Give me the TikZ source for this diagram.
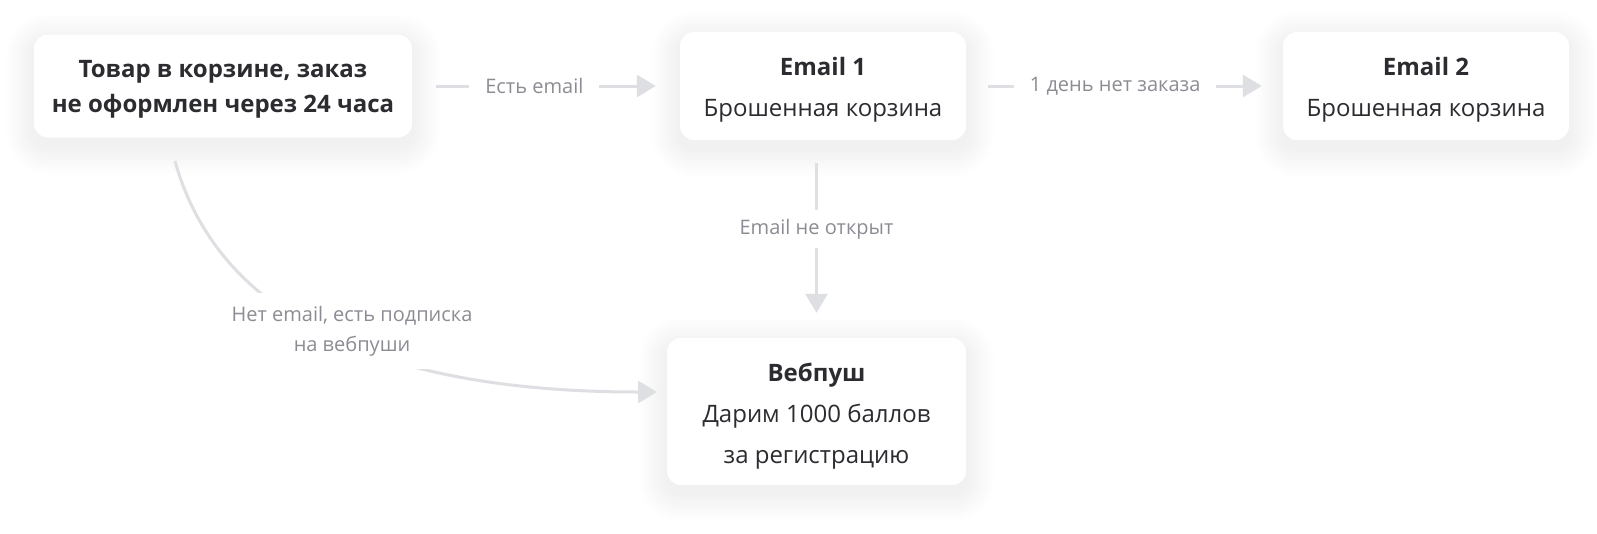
\documentclass[tikz,border=0pt]{standalone}
\usepackage{fontspec}
\setmainfont{Open Sans}
\usetikzlibrary{arrows.meta}
\definecolor{txt}{HTML}{2B2B30}
\definecolor{lblc}{HTML}{8C8C94}
\definecolor{arrc}{HTML}{DDDFE3}
\pgfdeclarelayer{bg}
\pgfsetlayers{bg,main}
\begin{document}
\begin{tikzpicture}[x=1pt,y=-1pt,
  card/.style={fill=white, rounded corners=14pt, align=center, text=txt,
    font=\fontsize{24}{41}\selectfont, inner sep=0pt},
  arr/.style={draw=arrc, line width=3pt, -{Triangle[length=19pt,width=22pt]}},
  lbl/.style={fill=white, text=lblc, font=\fontsize{20}{30}\selectfont,
    inner xsep=16pt, inner ysep=9pt, align=center}]
\useasboundingbox (0,0) rectangle (1597,533);

\node[card, minimum width=378pt, minimum height=103pt,
  font=\bfseries\fontsize{24}{35}\selectfont] (b1) at (223,86)
  {\rule{0pt}{24pt}Товар в корзине, заказ\\не оформлен через 24 часа};
\node[card, minimum width=286pt, minimum height=108pt] (b2) at (823,86)
  {\rule{0pt}{26pt}\textbf{Email 1}\\Брошенная корзина};
\node[card, minimum width=286pt, minimum height=108pt] (b3) at (1426,86)
  {\rule{0pt}{26pt}\textbf{Email 2}\\Брошенная корзина};
\node[card, minimum width=299pt, minimum height=147pt] (b4) at (816.5,411.5)
  {\rule{0pt}{28pt}\textbf{Вебпуш}\\Дарим 1000 баллов\\за регистрацию};

\begin{pgfonlayer}{bg}
\fill[white] (0,0) rectangle (1597,533);
\foreach \n in {b1,b2,b3,b4}{
  \foreach \i in {1,...,14}{
    \pgfmathsetmacro\d{2*\i}
    \pgfmathsetmacro\r{14+2*\i}
    \fill[black, fill opacity=0.005, rounded corners=\r pt]
      ([xshift=-\d pt, yshift=\d pt-8pt]\n.north west) rectangle
      ([xshift=\d pt, yshift=-\d pt-8pt]\n.south east);
  }
}
\end{pgfonlayer}

\draw[arr] ([xshift=24pt]b1.east) -- node[lbl, pos=0.447]{Есть email} ([xshift=-24pt]b2.west);
\draw[arr] ([xshift=22pt]b2.east) -- node[lbl, pos=0.464]{1 день нет заказа} ([xshift=-21pt]b3.west);

\coordinate (v0) at (816.5,163);
\draw[arr] (v0) -- node[lbl, pos=0.44, inner xsep=4pt]{Email не открыт} ([yshift=25pt]b4.north);

\coordinate (c0) at (175,161);
\coordinate (c1) at (657,392);
\draw[arr] (c0) .. controls (215,305) and (360,392) .. (c1);
\node[lbl, inner xsep=3pt, inner ysep=13pt] (lc) at (352,331)
  {Нет email, есть подписка\\на вебпуши};
\end{tikzpicture}
\end{document}
